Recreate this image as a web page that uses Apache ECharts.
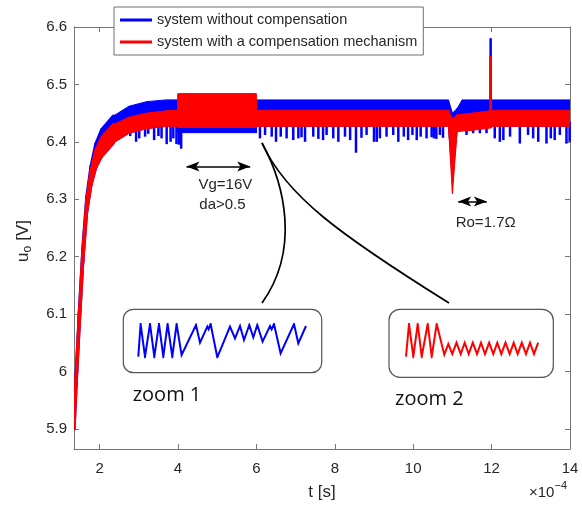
<!DOCTYPE html>
<html>
<head>
<meta charset="utf-8">
<script src="https://cdn.jsdelivr.net/npm/echarts@6/dist/echarts.min.js"></script>
<style>
  html, body { margin: 0; padding: 0; background: #fff; }
  #chart { width: 582px; height: 506px; }
</style>
</head>
<body>
<div id="chart"></div>
<script>
// Time is expressed in units of 1e-4 s (see the x10^-4 multiplier label).
const xTicks = [2, 4, 6, 8, 10, 12, 14];
const yTicks = [5.9, 6.0, 6.1, 6.2, 6.3, 6.4, 6.5, 6.6];

// Output voltage without compensation: upper / lower ripple envelope
const blueT  = [1.35, 1.40, 1.48, 1.57, 1.67, 1.78, 1.90, 2.05, 2.35, 2.75, 3.20, 3.70, 3.99, 4.00, 6.00, 6.01, 10.90, 11.00, 11.12, 11.25, 11.96, 11.965, 11.985, 11.99, 14.00];
const blueHi = [5.913, 5.997, 6.104, 6.214, 6.304, 6.358, 6.396, 6.421, 6.445, 6.462, 6.470, 6.473, 6.473, 6.473, 6.473, 6.473, 6.473, 6.450, 6.458, 6.473, 6.473, 6.580, 6.580, 6.473, 6.473];
const blueLo = [5.900, 5.975, 6.080, 6.190, 6.278, 6.325, 6.355, 6.375, 6.398, 6.415, 6.423, 6.427, 6.427, 6.416, 6.416, 6.427, 6.427, 6.330, 6.418, 6.420, 6.425, 6.425, 6.425, 6.427, 6.427];

// Downward ripple spikes of the uncompensated output (time, spike minimum)
const blueSpikeT = [2.78, 2.93, 3.01, 3.16, 3.24, 3.39, 3.50, 3.58, 3.71, 3.81, 3.88, 3.96, 4.02, 4.08,
  6.09, 6.22, 6.39, 6.50, 6.62, 6.77, 6.94, 7.07, 7.15, 7.24, 7.45, 7.58, 7.70, 7.79, 7.96, 8.09, 8.26, 8.39, 8.54,
  8.68, 8.81, 9.00, 9.07, 9.15, 9.32, 9.49, 9.62, 9.76, 9.87, 9.98, 10.09, 10.19, 10.34, 10.47, 10.53, 10.59, 10.68, 10.76, 10.94,
  11.36, 11.53, 11.70, 11.87, 12.08, 12.21, 12.30, 12.47, 12.72, 12.93, 13.06, 13.19, 13.40, 13.51, 13.61, 13.74, 13.91, 13.99];
const blueSpikeV = [6.410, 6.400, 6.406, 6.409, 6.414, 6.403, 6.410, 6.406, 6.396, 6.400, 6.406, 6.396, 6.395, 6.388,
  6.406, 6.412, 6.409, 6.400, 6.409, 6.406, 6.403, 6.406, 6.408, 6.400, 6.409, 6.405, 6.403, 6.412, 6.406, 6.400, 6.409, 6.403, 6.381,
  6.407, 6.412, 6.400, 6.400, 6.406, 6.409, 6.412, 6.400, 6.409, 6.403, 6.412, 6.403, 6.409, 6.406, 6.408, 6.406, 6.405, 6.412, 6.407, 6.406,
  6.412, 6.415, 6.415, 6.415, 6.406, 6.400, 6.403, 6.409, 6.397, 6.412, 6.406, 6.400, 6.397, 6.406, 6.403, 6.412, 6.397, 6.400];

// Output voltage with the compensation mechanism: upper / lower ripple envelope
const redT  = [1.35, 1.40, 1.48, 1.57, 1.67, 1.78, 1.90, 2.05, 2.35, 2.75, 3.20, 3.70, 3.99, 4.00, 5.99, 6.00, 10.90, 11.00, 11.12, 11.50, 11.96, 11.965, 11.985, 11.99, 14.00];
const redHi = [5.912, 5.995, 6.100, 6.210, 6.298, 6.350, 6.385, 6.407, 6.430, 6.443, 6.450, 6.454, 6.455, 6.484, 6.484, 6.455, 6.455, 6.440, 6.447, 6.450, 6.454, 6.549, 6.549, 6.455, 6.455];
const redLo = [5.900, 5.975, 6.080, 6.190, 6.278, 6.325, 6.355, 6.375, 6.398, 6.415, 6.423, 6.427, 6.427, 6.425, 6.425, 6.427, 6.427, 6.310, 6.418, 6.420, 6.424, 6.424, 6.424, 6.427, 6.427];

// Detail views of the ripple (relative position, normalised amplitude)
const zoom1X = [0, 2.3, 6.7, 11.7, 16, 20.7, 25, 29.3, 34, 38.3, 43.3, 57.7, 61.7, 69, 70.3, 72.3, 79, 91.7, 96.7, 101.7, 105.7, 111, 115, 119, 124.3, 131.7, 133.3, 135.7, 142.3, 155.7, 160, 167.7];
const zoom1V = [0.02, 1.0, 0.02, 1.0, 0.02, 1.0, 0.02, 1.0, 0.02, 1.0, 0.07, 0.97, 0.44, 0.92, 0.84, 1.0, 0.0, 0.92, 0.57, 0.94, 0.52, 0.97, 0.60, 0.97, 0.47, 0.94, 0.84, 1.0, 0.12, 1.0, 0.42, 0.94];
const zoom2X = [0, 3, 7.3, 11.7, 15.7, 21.7, 25.7, 30.7, 38.3, 42.3, 46.3, 50.5, 54.7, 58.7, 62.7, 66.8, 71, 75, 79, 83.2, 87.3, 91.3, 95.3, 99.5, 103.7, 107.7, 111.7, 115.8, 120, 124, 128, 132.2];
const zoom2V = [0.02, 1.0, 0.02, 1.0, 0.02, 1.0, 0.02, 1.0, 0.08, 0.40, 0.10, 0.44, 0.10, 0.44, 0.10, 0.44, 0.10, 0.44, 0.10, 0.44, 0.10, 0.44, 0.10, 0.44, 0.10, 0.44, 0.10, 0.44, 0.10, 0.44, 0.10, 0.44];

const NAME_BLUE = 'system without compensation';
const NAME_RED = 'system with a compensation mechanism';
const BLUE = '#0000ff';
const RED = '#ff0000';
const FONT = "'Liberation Sans', Arial, Helvetica, sans-serif";
const AXIS_COLOR = '#767676';
const TEXT_COLOR = '#262626';
const SPIKE_BASE = 6.435;       // spikes start inside the ripple band
const STARTUP_END = 2.2;        // startup transient drawn with a heavier stroke

// Ripple band: one filled quad between consecutive envelope samples
function bandSeries(name, color, T, Hi, Lo) {
  return {
    type: 'custom',
    name: name,
    xAxisIndex: 0, yAxisIndex: 0,
    itemStyle: { color: color },
    data: T.map((t, i) => [t, Lo[i], Hi[i]]),
    encode: { x: 0, y: [1, 2] },
    clip: true,
    silent: true,
    renderItem: function (params, api) {
      const i = params.dataIndex;
      if (i >= T.length - 1) return null;
      const a1 = api.coord([T[i], Hi[i]]);
      const b1 = api.coord([T[i + 1], Hi[i + 1]]);
      const b2 = api.coord([T[i + 1], Lo[i + 1]]);
      const a2 = api.coord([T[i], Lo[i]]);
      return {
        type: 'polygon',
        shape: { points: [a1, b1, b2, a2] },
        style: { fill: color, stroke: color, lineWidth: T[i] < STARTUP_END ? 3 : 1, lineJoin: 'round' }
      };
    }
  };
}

function axisCommon(extra) {
  return Object.assign({
    type: 'value',
    axisLine: { show: true, onZero: false, lineStyle: { color: AXIS_COLOR, width: 1 } },
    splitLine: { show: false }
  }, extra);
}

const chart = echarts.init(document.getElementById('chart'), null, { renderer: 'canvas' });

const option = {
  animation: false,
  backgroundColor: '#ffffff',
  grid: [
    { left: 74, top: 27, right: 12, bottom: 57 },
    { left: 138.3, top: 324, width: 167.7, height: 33.3 },
    { left: 406, top: 324, width: 132.2, height: 33.3 }
  ],
  xAxis: [
    axisCommon({
      gridIndex: 0, position: 'bottom', min: 1.346, max: 14,
      axisTick: { show: true, inside: true, length: 5, customValues: xTicks, lineStyle: { color: AXIS_COLOR } },
      axisLabel: { show: true, customValues: xTicks, margin: 12, fontSize: 15, color: TEXT_COLOR, fontFamily: FONT }
    }),
    axisCommon({
      gridIndex: 0, position: 'top', min: 1.346, max: 14,
      axisTick: { show: true, inside: true, length: 5, customValues: xTicks, lineStyle: { color: AXIS_COLOR } },
      axisLabel: { show: false }
    }),
    { type: 'value', gridIndex: 1, min: 0, max: 167.7, show: false },
    { type: 'value', gridIndex: 2, min: 0, max: 132.2, show: false }
  ],
  yAxis: [
    axisCommon({
      gridIndex: 0, position: 'left', min: 5.865, max: 6.6,
      axisTick: { show: true, inside: true, length: 5, customValues: yTicks, lineStyle: { color: AXIS_COLOR } },
      axisLabel: {
        show: true, customValues: yTicks, margin: 7, fontSize: 15, color: TEXT_COLOR, fontFamily: FONT,
        formatter: v => String(Math.round(v * 10) / 10)
      }
    }),
    axisCommon({
      gridIndex: 0, position: 'right', min: 5.865, max: 6.6,
      axisTick: { show: true, inside: true, length: 5, customValues: yTicks, lineStyle: { color: AXIS_COLOR } },
      axisLabel: { show: false }
    }),
    { type: 'value', gridIndex: 1, min: 0, max: 1, show: false },
    { type: 'value', gridIndex: 2, min: 0, max: 1, show: false }
  ],
  legend: {
    orient: 'vertical',
    left: 114, top: 7,
    padding: [5, 6, 5, 6],
    itemGap: 6,
    itemWidth: 32, itemHeight: 3,
    backgroundColor: '#ffffff',
    borderColor: '#707070', borderWidth: 1, borderRadius: 0,
    selectedMode: false,
    textStyle: { fontSize: 14.5, lineHeight: 16, color: TEXT_COLOR, fontFamily: FONT },
    data: [
      { name: NAME_BLUE, icon: 'rect', itemStyle: { color: BLUE } },
      { name: NAME_RED, icon: 'rect', itemStyle: { color: RED } }
    ],
    z: 10
  },
  series: [
    bandSeries(NAME_BLUE, BLUE, blueT, blueHi, blueLo),
    {
      type: 'custom',
      name: 'blue spikes',
      xAxisIndex: 0, yAxisIndex: 0,
      data: blueSpikeT.map((t, i) => [t, blueSpikeV[i]]),
      encode: { x: 0, y: 1 },
      silent: true,
      renderItem: function (params, api) {
        const p = api.coord([api.value(0), api.value(1)]);
        const q = api.coord([api.value(0), SPIKE_BASE]);
        return {
          type: 'rect',
          shape: { x: p[0] - 1.25, y: q[1], width: 2.5, height: p[1] - q[1] },
          style: { fill: BLUE }
        };
      }
    },
    bandSeries(NAME_RED, RED, redT, redHi, redLo),
    {
      // double-headed annotation arrows for the two disturbances
      type: 'line',
      name: 'arrows',
      xAxisIndex: 0, yAxisIndex: 0,
      data: [],
      silent: true,
      markLine: {
        silent: true,
        animation: false,
        symbol: ['arrow', 'arrow'],
        symbolSize: [7.5, 13],
        label: { show: false },
        lineStyle: { color: '#000', width: 1.5, type: 'solid' },
        emphasis: { disabled: true },
        data: [
          [{ coord: [4.216, 6.357] }, { coord: [5.841, 6.357] }],
          [{ coord: [11.148, 6.296] }, { coord: [11.877, 6.296] }]
        ]
      }
    },
    {
      type: 'line',
      name: 'zoom 1',
      xAxisIndex: 2, yAxisIndex: 2,
      data: zoom1X.map((x, i) => [x, zoom1V[i]]),
      showSymbol: false, silent: true,
      lineStyle: { color: BLUE, width: 2, join: 'miter' }
    },
    {
      type: 'line',
      name: 'zoom 2',
      xAxisIndex: 3, yAxisIndex: 3,
      data: zoom2X.map((x, i) => [x, zoom2V[i]]),
      showSymbol: false, silent: true,
      lineStyle: { color: RED, width: 2, join: 'miter' }
    }
  ],
  graphic: [
    // frames of the two detail views
    { type: 'rect', silent: true, shape: { x: 123.3, y: 309.3, width: 198.4, height: 63.4, r: 10 },
      style: { fill: 'none', stroke: '#555', lineWidth: 1.2 } },
    { type: 'rect', silent: true, shape: { x: 389, y: 309.3, width: 164.3, height: 68, r: 11 },
      style: { fill: 'none', stroke: '#555', lineWidth: 1.2 } },
    // leader curves from the end of the Vg step to the detail views
    { type: 'bezierCurve', silent: true,
      shape: { x1: 262, y1: 143, x2: 262, y2: 303, cpx1: 285, cpy1: 185, cpx2: 300, cpy2: 250 },
      style: { fill: 'none', stroke: '#000', lineWidth: 1.7 } },
    { type: 'bezierCurve', silent: true,
      shape: { x1: 262, y1: 143, x2: 449, y2: 303, cpx1: 285, cpy1: 195, cpx2: 340, cpy2: 235 },
      style: { fill: 'none', stroke: '#000', lineWidth: 1.7 } },
    // annotations
    { type: 'text', silent: true, x: 198.5, y: 185,
      style: { text: 'Vg=16V', font: '15px ' + FONT, fill: TEXT_COLOR, align: 'left', verticalAlign: 'middle' } },
    { type: 'text', silent: true, x: 199.3, y: 205,
      style: { text: 'da>0.5', font: '15px ' + FONT, fill: TEXT_COLOR, align: 'left', verticalAlign: 'middle' } },
    { type: 'text', silent: true, x: 455.7, y: 222.7,
      style: { text: 'Ro=1.7Ω', font: '15px ' + FONT, fill: TEXT_COLOR, align: 'left', verticalAlign: 'middle' } },
    { type: 'text', silent: true, x: 132.7, y: 395,
      style: { text: 'zoom 1', font: "20px 'Open Sans', sans-serif", fill: '#111', align: 'left', verticalAlign: 'middle' } },
    { type: 'text', silent: true, x: 395, y: 399,
      style: { text: 'zoom 2', font: "20px 'Open Sans', sans-serif", fill: '#111', align: 'left', verticalAlign: 'middle' } },
    // axis titles
    { type: 'text', silent: true, x: 322, y: 492,
      style: { text: 't [s]', font: '17px ' + FONT, fill: TEXT_COLOR, align: 'center', verticalAlign: 'middle' } },
    { type: 'text', silent: true, x: 529, y: 493,
      style: { text: '×10', font: '15px ' + FONT, fill: TEXT_COLOR, align: 'left', verticalAlign: 'middle' } },
    { type: 'text', silent: true, x: 554.5, y: 486,
      style: { text: '−4', font: '11px ' + FONT, fill: TEXT_COLOR, align: 'left', verticalAlign: 'middle' } },
    {
      type: 'group', silent: true, x: 23, y: 262, rotation: Math.PI / 2,
      children: [
        { type: 'text', x: 0, y: 0,
          style: { text: 'u', font: '17px ' + FONT, fill: TEXT_COLOR, align: 'left', verticalAlign: 'middle' } },
        { type: 'text', x: 9.5, y: 5,
          style: { text: 'o', font: '12px ' + FONT, fill: TEXT_COLOR, align: 'left', verticalAlign: 'middle' } },
        { type: 'text', x: 16.5, y: 0,
          style: { text: ' [V]', font: '17px ' + FONT, fill: TEXT_COLOR, align: 'left', verticalAlign: 'middle' } }
      ]
    }
  ]
};

chart.setOption(option);
</script>
</body>
</html>
